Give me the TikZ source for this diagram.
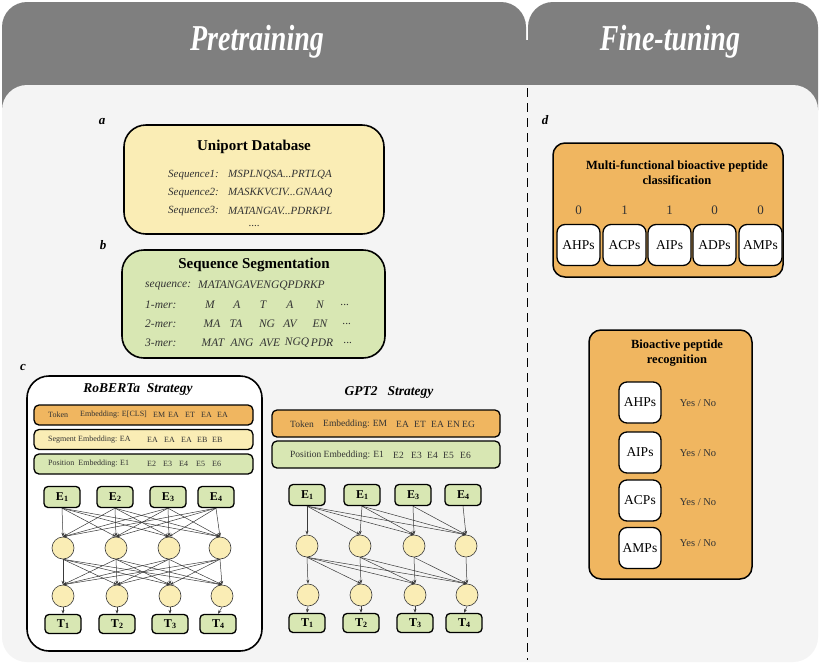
\documentclass[tikz,border=0pt]{standalone}
\usepackage{fontspec}
\setmainfont{Liberation Serif}
\usetikzlibrary{arrows.meta}
\definecolor{hdr}{HTML}{7F7F7F}
\definecolor{panel}{HTML}{F4F4F4}
\definecolor{ora}{HTML}{F0B660}
\definecolor{yel}{HTML}{FAEDB5}
\definecolor{grn}{HTML}{D8E7B3}
\definecolor{ln}{HTML}{3A3A3A}
\definecolor{txt}{HTML}{333333}
\newcommand\fsz[1]{\fontsize{#1}{#1}\selectfont}
\newcommand\sub[1]{\raisebox{-0.8pt}{\fsz{8}\bfseries #1}}
\begin{document}
\begin{tikzpicture}[x=1pt,y=-1pt,
  bigbox/.style={draw=black, line width=1.6pt, rounded corners=22pt, inner sep=0pt},
  barbox/.style={draw=black, line width=1.3pt, rounded corners=5pt, inner sep=0pt},
  ebox/.style={draw=black, line width=1.3pt, rounded corners=4pt, fill=grn, minimum width=36pt, minimum height=21pt, inner sep=0pt, font=\fsz{12}\bfseries},
  tbox/.style={ebox, minimum height=19pt},
  neuron/.style={circle, draw=ln, line width=0.6pt, fill=yel, minimum size=22pt, inner sep=0pt},
  conn/.style={draw=ln, line width=0.5pt, -{Stealth[length=4pt,width=3pt]}},
  dbox/.style={draw=black, line width=1.5pt, rounded corners=12pt, fill=ora, inner sep=0pt},
  pbox/.style={draw=black, line width=1.3pt, rounded corners=8pt, fill=white, minimum width=43pt, minimum height=41pt, inner sep=0pt, font=\fsz{13.5}},
  lbl/.style={font=\fsz{13}\bfseries\itshape, inner sep=0pt},
  seq/.style={font=\fsz{11}\itshape, anchor=west, inner sep=0pt, text=txt},
  mer/.style={font=\fsz{11.5}\itshape, inner sep=0pt, text=txt},
  rb/.style={font=\fsz{8}, anchor=west, inner sep=0pt, text=txt},
  gb/.style={font=\fsz{9.5}, anchor=west, inner sep=0pt, text=txt},
  yn/.style={font=\fsz{10.5}, inner sep=0pt, text=txt}
]
\useasboundingbox (0,0) rectangle (820,665);
\fill[white] (0,0) rectangle (820,665);
% header tabs
\fill[hdr, rounded corners=25pt] (2,110) -- (2,2) -- (526,2) -- (526,110);
\fill[hdr, rounded corners=25pt] (528,110) -- (528,2) -- (818,2) -- (818,110);
\fill[hdr] (2,60) rectangle (818,110);
\fill[hdr] (520,40) rectangle (534,110);
\fill[panel, rounded corners=25pt] (2,85) rectangle (818,662);
\draw[black, line width=0.8pt, dash pattern=on 9pt off 6pt] (527,88) -- (527,660);
\node[text=white, font=\fsz{28}\bfseries\itshape] (tp) at (257,42) {\scalebox{1}[1.3]{Pretraining}};
\node[text=white, font=\fsz{28}\bfseries\itshape] (tf) at (670,42) {\scalebox{1}[1.3]{Fine-tuning}};

% panel a
\node[lbl] (la) at (102,122) {a};
\node[bigbox, fill=yel, minimum width=260pt, minimum height=109pt] (uni) at (254,179.5) {};
\node[font=\fsz{15}\bfseries, inner sep=0pt] (unit) at (254,147) {Uniport Database};
\node[seq] (s1) at (168,175) {Sequence1:};
\node[seq] (s1v) at (228,175) {MSPLNQSA...PRTLQA};
\node[seq] (s2) at (168,193) {Sequence2:};
\node[seq] (s2v) at (228,193) {MASKKVCIV...GNAAQ};
\node[seq] (s3) at (168,211) {Sequence3:};
\node[seq] (s3v) at (228,211) {MATANGAV...PDRKPL};
\node[font=\fsz{11}, inner sep=0pt, text=txt] (sd) at (254,226) {....};

% panel b
\node[lbl] (lb) at (103,245) {b};
\node[bigbox, fill=grn, minimum width=263pt, minimum height=108pt] (segb) at (253.5,304) {};
\node[font=\fsz{15}\bfseries, inner sep=0pt] (segt) at (254,265) {Sequence Segmentation};
\node[mer, anchor=west] (q0) at (145,286) {sequence:};
\node[mer, anchor=west] (q1) at (198,286) {MATANGAVENGQPDRKP};
\node[mer, anchor=west] (m1) at (145,305) {1-mer:};
\node[mer, anchor=west] (m2) at (145,324) {2-mer:};
\node[mer, anchor=west] (m3) at (145,343) {3-mer:};
\foreach \t/\x [count=\k] in {M/210,A/237,T/263,A/290,N/320}
  \node[mer] (oa\k) at (\x,305) {\t};
\node[mer] (oa6) at (345,305) {...};
\foreach \t/\x [count=\k] in {MA/212,TA/236,NG/267,AV/290,EN/320}
  \node[mer] (ob\k) at (\x,324) {\t};
\node[mer] (ob6) at (347,324) {...};
\foreach \t/\x [count=\k] in {MAT/213,ANG/242,AVE/270,NGQ/297,PDR/322}
  \node[mer] (oc\k) at (\x,343) {\t};
\node[mer] (oc6) at (348,343) {...};

% panel c : RoBERTa
\node[lbl] (lc) at (23,367) {c};
\node[bigbox, fill=white, minimum width=235pt, minimum height=275pt] (rob) at (144.5,513.5) {};
\node[font=\fsz{13.5}\bfseries\itshape, inner sep=0pt] (robt) at (138,389) {RoBERTa~~Strategy};
\node[barbox, fill=ora, minimum width=219pt, minimum height=20pt] (rtok) at (143.5,415) {};
\node[barbox, fill=yel, minimum width=219pt, minimum height=20pt] (rseg) at (143.5,439.5) {};
\node[barbox, fill=grn, minimum width=219pt, minimum height=20pt] (rpos) at (143.5,464) {};
\node[rb] (rt1) at (48,415) {Token};
\node[rb] (rt2) at (80,415) {Embedding: E[CLS]};
\foreach \t/\x [count=\k] in {EM/153,EA/168,ET/185,EA/201,EA/217}
  \node[rb] (rtx\k) at (\x,415) {\t};
\node[rb] (rs1) at (48,439.5) {Segment Embedding: EA};
\foreach \t/\x [count=\k] in {EA/147,EA/164,EA/181,EB/197,EB/212}
  \node[rb] (rsx\k) at (\x,439.5) {\t};
\node[rb] (rp1) at (48,464) {Position~~Embedding: E1};
\foreach \t/\x [count=\k] in {E2/147,E3/163,E4/179,E5/196,E6/212}
  \node[rb] (rpx\k) at (\x,464) {\t};
\foreach \x/\s [count=\k] in {62/1,115/2,168/3,216/4}
  \node[ebox] (rE\k) at (\x,497) {E\sub{\s}};
\foreach \x [count=\k] in {63,116,169,220}
  \node[neuron] (rC\k) at (\x,548) {};
\foreach \x [count=\k] in {63,117,170,222}
  \node[neuron] (rD\k) at (\x,596) {};
\foreach \x/\s [count=\k] in {63/1,117/2,170/3,218/4}
  \node[tbox] (rT\k) at (\x,624) {T\sub{\s}};
\foreach \i in {1,...,4}{
  \foreach \j in {1,...,4}{
    \draw[conn] (rE\i.south) -- (rC\j.north);
    \draw[conn] (rC\i.south) -- (rD\j.north);
  }
  \draw[conn] (rD\i.south) -- (rT\i.north);
}

% GPT2
\node[font=\fsz{13.5}\bfseries\itshape, inner sep=0pt] (gptt) at (389,392) {GPT2~~~Strategy};
\node[barbox, fill=ora, minimum width=228pt, minimum height=27pt] (gtok) at (386,423.5) {};
\node[barbox, fill=grn, minimum width=228pt, minimum height=27pt] (gpos) at (386,454.5) {};
\node[gb] (gt1) at (290,424) {Token};
\node[gb] (gt2) at (323,424) {Embedding: EM};
\foreach \t/\x [count=\k] in {EA/396,ET/414,EA/431,EN/447,EG/462}
  \node[gb] (gtx\k) at (\x,424) {\t};
\node[gb] (gp1) at (290,455) {Position Embedding: E1};
\foreach \t/\x [count=\k] in {E2/393,E3/411,E4/427,E5/443,E6/460}
  \node[gb] (gpx\k) at (\x,455) {\t};
\foreach \x/\s [count=\k] in {307/1,362/1,413/3,463/4}
  \node[ebox] (gE\k) at (\x,495) {E\sub{\s}};
\foreach \x [count=\k] in {307,360,414,466}
  \node[neuron] (gC\k) at (\x,546) {};
\foreach \x [count=\k] in {308,361,415,467}
  \node[neuron] (gD\k) at (\x,595) {};
\foreach \x/\s [count=\k] in {307/1,361/2,415/3,464/4}
  \node[tbox] (gT\k) at (\x,623) {T\sub{\s}};
\foreach \i in {1,...,4}{
  \foreach \j in {\i,...,4}{
    \draw[conn] (gE\i.south) -- (gC\j.north);
    \draw[conn] (gC\i.south) -- (gD\j.north);
  }
  \draw[conn] (gD\i.south) -- (gT\i.north);
}

% panel d
\node[lbl] (ld) at (545,120) {d};
\node[dbox, minimum width=230pt, minimum height=134pt] (multi) at (668,210) {};
\node[font=\fsz{12.5}\bfseries, align=center, inner sep=0pt] (multit) at (677,172.5) {Multi-functional bioactive peptide\\[3pt]classification};
\foreach \t/\v/\x [count=\k] in {AHPs/0/578.5,ACPs/1/624.5,AIPs/1/669.5,ADPs/0/714.5,AMPs/0/760.5}{
  \node[pbox] (mb\k) at (\x,245) {\t};
  \node[font=\fsz{13}, inner sep=0pt, text=txt] (mv\k) at (\x,210) {\v};
}
\node[dbox, minimum width=163pt, minimum height=249pt] (rec) at (670.5,454.5) {};
\node[font=\fsz{12.5}\bfseries, align=center, inner sep=0pt] (rect) at (677,353) {Bioactive peptide\\[2pt]recognition};
\foreach \t/\y/\yy [count=\k] in {AHPs/402.5/403,AIPs/452.5/453,ACPs/500.5/502,AMPs/548/543}{
  \node[pbox, minimum width=42pt] (rb\k) at (640,\y) {\t};
  \node[yn] (yn\k) at (698,\yy) {Yes / No};
}
\end{tikzpicture}
\end{document}
